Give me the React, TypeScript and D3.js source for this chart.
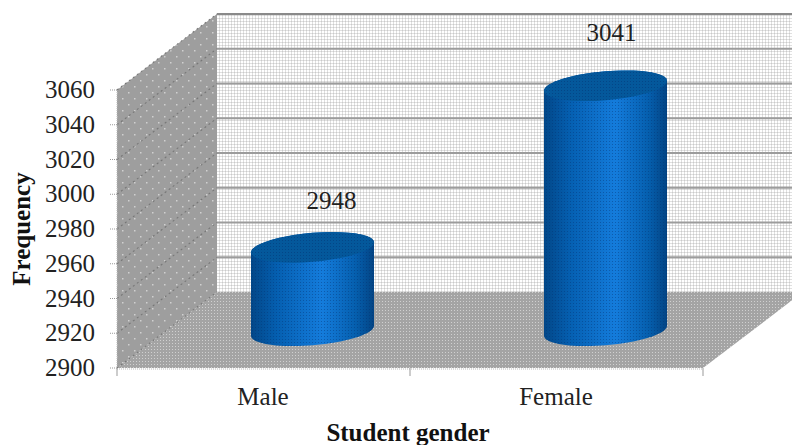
import React from "react";
import * as d3 from "d3";

const categories = ["Male", "Female"];
const frequencies = [2948, 3041];
const yTicks = [2900, 2920, 2940, 2960, 2980, 3000, 3020, 3040, 3060];
const yDomain = [2900, 3060];

const W = 792;
const H = 445;
const FONT = "'Liberation Serif', serif";
const FONT_SIZE = 25;

// Front plane of the 3D box, and how far the back wall is pushed up and right
const plotLeft = 117;
const plotRight = 703;
const plotBottom = 368;
const plotTop = 90;
const depthX = 100;
const depthY = -76;
const barDepth = 0.49;

// Cylinder cross-section
const radiusX = 61.5;
const tiltY = 5;
const radiusY = 14.5;

// The value labels sit by hand beside their cylinders
const labelShiftX = [19, 6];
const labelShiftY = [-38, -45];

const x = d3.scaleBand<string>().domain(categories).range([plotLeft, plotRight]);
const y = d3.scaleLinear().domain(yDomain).range([plotBottom, plotTop]);

const poly = d3.line<[number, number]>();

function rimPoints(cx: number, cy: number, from: number, to: number): [number, number][] {
  return d3.range(0, 41).map((i) => {
    const t = from + ((to - from) * i) / 40;
    return [
      cx + radiusX * Math.cos(t),
      cy - tiltY * Math.cos(t) - radiusY * Math.sin(t),
    ] as [number, number];
  });
}

function Cylinder({ cx, top, bottom }: { cx: number; top: number; bottom: number }) {
  const body = [
    ...rimPoints(cx, top, 0, Math.PI),
    ...rimPoints(cx, bottom, Math.PI, 2 * Math.PI),
  ];
  const cap = rimPoints(cx, top, 0, 2 * Math.PI);
  return (
    <g>
      <path d={poly(body) + "Z"} fill="url(#barShade)" />
      <path d={poly(body) + "Z"} fill="url(#barDots)" />
      <path d={poly(cap) + "Z"} fill="#04589b" />
      <path d={poly(cap) + "Z"} fill="url(#capDots)" />
    </g>
  );
}

export default function App() {
  const back = (v: number) => y(v) + depthY;
  const wall: [number, number][] = [
    [plotLeft + depthX, back(yDomain[1])],
    [W + 20, back(yDomain[1])],
    [W + 20, back(yDomain[0])],
    [plotLeft + depthX, back(yDomain[0])],
  ];
  const side: [number, number][] = [
    [plotLeft, y(yDomain[0])],
    [plotLeft, y(yDomain[1])],
    [plotLeft + depthX, back(yDomain[1])],
    [plotLeft + depthX, back(yDomain[0])],
  ];
  const floor: [number, number][] = [
    [plotLeft, y(yDomain[0])],
    [plotRight, y(yDomain[0])],
    [plotRight + depthX, back(yDomain[0])],
    [plotLeft + depthX, back(yDomain[0])],
  ];
  const xEdges = [plotLeft, (plotLeft + plotRight) / 2, plotRight];

  return (
    <svg
      width={W}
      height={H}
      style={{ position: "absolute", left: 0, top: 0, background: "#fff" }}
      fontFamily={FONT}
      fontSize={FONT_SIZE}
    >
      <defs>
        <pattern id="wallDots" width={3} height={3} patternUnits="userSpaceOnUse">
          <rect width={3} height={3} fill="#fff" />
          <rect width={3} height={1} fill="#e0e0e0" />
          <rect width={1} height={3} fill="#e0e0e0" />
          <rect width={1} height={1} fill="#cacaca" />
        </pattern>
        <pattern id="floorDots" width={3} height={3} patternUnits="userSpaceOnUse">
          <rect width={3} height={3} fill="#a4a4a4" />
          <rect x={1} y={1} width={1} height={1} fill="#d0d0d0" />
        </pattern>
        <pattern id="sideDots" width={12} height={12} patternUnits="userSpaceOnUse">
          <rect width={12} height={12} fill="#9e9e9e" />
          <rect x={2} y={2} width={1.5} height={1.5} fill="#d0d0d0" />
          <rect x={8} y={8} width={1.5} height={1.5} fill="#d0d0d0" />
        </pattern>
        <pattern id="barDots" width={3} height={3} patternUnits="userSpaceOnUse">
          <rect width={1} height={1} fill="#02306e" fillOpacity={0.4} />
        </pattern>
        <pattern id="capDots" width={3} height={3} patternUnits="userSpaceOnUse">
          <rect width={1} height={1} fill="#02306e" fillOpacity={0.45} />
        </pattern>
        <linearGradient id="barShade" x1="0" x2="1" y1="0" y2="0">
          <stop offset="0" stopColor="#024788" />
          <stop offset="0.22" stopColor="#0560b2" />
          <stop offset="0.58" stopColor="#147cdc" />
          <stop offset="0.85" stopColor="#055fae" />
          <stop offset="1" stopColor="#034484" />
        </linearGradient>
      </defs>

      <path d={poly(wall) + "Z"} fill="url(#wallDots)" />
      <path d={poly(side) + "Z"} fill="url(#sideDots)" />
      <path d={poly(floor) + "Z"} fill="url(#floorDots)" />

      {/* Gridlines run along the back wall, then diagonally across the side wall */}
      {yTicks.slice(1).map((v, i) => (
        <line
          key={v}
          x1={plotLeft + depthX}
          x2={W}
          y1={back(v)}
          y2={back(v)}
          stroke={i === yTicks.length - 2 ? "#8a8a8a" : "#9c9c9c"}
          strokeWidth={2}
        />
      ))}
      {yTicks.map((v) => (
        <line
          key={v}
          x1={plotLeft}
          y1={y(v)}
          x2={plotLeft + depthX}
          y2={back(v)}
          stroke="#777"
          strokeWidth={1.1}
          strokeDasharray="2 3"
        />
      ))}

      {/* Axis lines and ticks */}
      <line x1={plotLeft} x2={plotRight} y1={plotBottom + 1} y2={plotBottom + 1} stroke="#bbb" strokeDasharray="1 1" />
      <line x1={plotLeft} x2={plotLeft} y1={plotTop} y2={plotBottom} stroke="#bbb" strokeDasharray="1 1" />
      {yTicks.map((v) => (
        <line key={v} x1={plotLeft - 7} x2={plotLeft} y1={y(v)} y2={y(v)} stroke="#999" strokeDasharray="1 1" />
      ))}
      {xEdges.map((e) => (
        <line key={e} x1={e} x2={e} y1={plotBottom} y2={plotBottom + 8} stroke="#999" />
      ))}

      {categories.map((c, i) => {
        const cx = x(c)! + x.bandwidth() / 2 + depthX * barDepth;
        return (
          <Cylinder
            key={c}
            cx={cx}
            top={y(frequencies[i]) + depthY * barDepth}
            bottom={y(yDomain[0]) + depthY * barDepth}
          />
        );
      })}

      {/* Value labels */}
      {categories.map((c, i) => (
        <text
          key={c}
          x={x(c)! + x.bandwidth() / 2 + depthX * barDepth + labelShiftX[i]}
          y={y(frequencies[i]) + depthY * barDepth + labelShiftY[i]}
          textAnchor="middle"
          fill="#222"
        >
          {frequencies[i]}
        </text>
      ))}

      {/* Tick labels */}
      {yTicks.map((v) => (
        <text key={v} x={95} y={y(v) + 8} textAnchor="end" fill="#222">
          {v}
        </text>
      ))}
      {categories.map((c) => (
        <text key={c} x={x(c)! + x.bandwidth() / 2 - 0.5} y={405} textAnchor="middle" fill="#222">
          {c}
        </text>
      ))}

      {/* Axis titles */}
      <text x={408} y={441} textAnchor="middle" fontWeight="bold" fill="#111">
        Student gender
      </text>
      <text
        transform="translate(30,229) rotate(-90)"
        textAnchor="middle"
        fontWeight="bold"
        fill="#111"
      >
        Frequency
      </text>
    </svg>
  );
}
